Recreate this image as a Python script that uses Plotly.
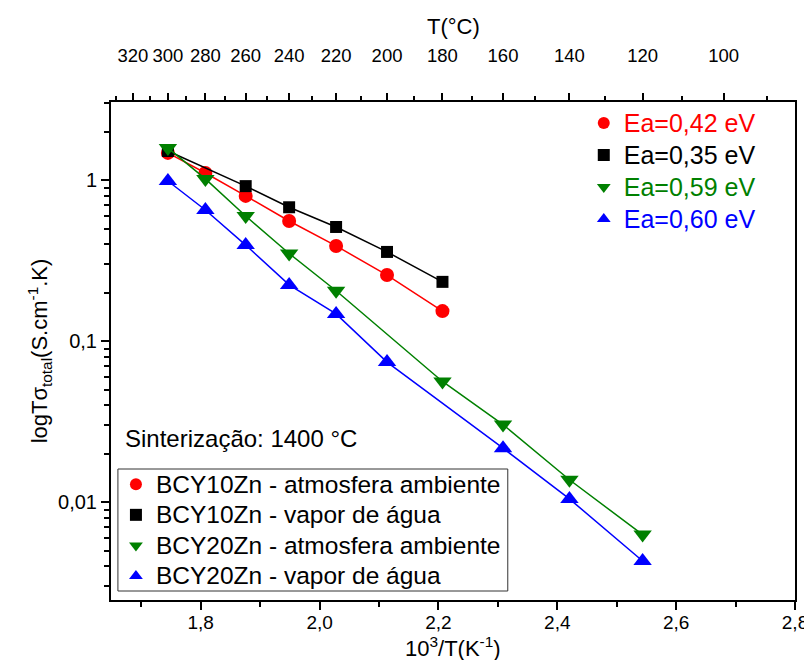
import plotly.graph_objects as go

# ---------------- data ----------------
# temperatures (°C) of each measured point; x = 1000/T(K)
T_bcy10_amb = [300, 280, 260, 240, 220, 200, 180]
S_bcy10_amb = [1.48, 1.11, 0.80, 0.559, 0.391, 0.258, 0.154]

T_bcy10_vap = [300, 260, 240, 220, 200, 180]
S_bcy10_vap = [1.52, 0.92, 0.68, 0.513, 0.359, 0.234]

T_bcy20_amb = [300, 280, 260, 240, 220, 180, 160, 140, 120]
S_bcy20_amb = [1.59, 1.02, 0.60, 0.351, 0.206, 0.0563, 0.0304, 0.0138, 0.0063]

T_bcy20_vap = [300, 280, 260, 240, 220, 200, 160, 140, 120]
S_bcy20_vap = [0.99, 0.654, 0.396, 0.224, 0.148, 0.0743, 0.0217, 0.0105, 0.00432]

series_names = ["BCY10Zn - atmosfera ambiente", "BCY10Zn - vapor de água",
                "BCY20Zn - atmosfera ambiente", "BCY20Zn - vapor de água"]
ea_labels = ["Ea=0,42 eV", "Ea=0,35 eV", "Ea=0,59 eV", "Ea=0,60 eV"]

top_tick_T = [320, 300, 280, 260, 240, 220, 200, 180, 160, 140, 120, 100]
top_tick_labels = ["320", "300", "280", "260", "240", "220", "200", "180", "160", "140", "120", "100"]
top_minor_T = [330, 310, 290, 270, 250, 230, 210, 190, 170, 150, 130, 110, 90]

y_tick_vals = [0.01, 0.1, 1]
y_tick_labels = ["0,01", "0,1", "1"]

# ---------------- styles ----------------
colors = ["#FF0000", "#000000", "#008000", "#0000FF"]
symbols = ["circle", "square", "triangle-down", "triangle-up"]
msizes = [14, 12, 16, 16]
FONT = "Liberation Sans, Arial, sans-serif"

PLOT_LEFT = 103
PLOT_RIGHT = 796
PLOT_TOP = 94
PLOT_BOTTOM = 592
H_PLOT = PLOT_BOTTOM - PLOT_TOP
W_PLOT = PLOT_RIGHT - PLOT_LEFT


def inv(T):
    return [1000.0 / (t + 273.15) for t in T]


def py(ypix):
    return (PLOT_BOTTOM - ypix) / H_PLOT


def px(xpix):
    return (xpix - PLOT_LEFT) / W_PLOT


Ts = [T_bcy10_amb, T_bcy10_vap, T_bcy20_amb, T_bcy20_vap]
Ss = [S_bcy10_amb, S_bcy10_vap, S_bcy20_amb, S_bcy20_vap]

fig = go.Figure()

for i in range(4):
    fig.add_trace(go.Scatter(
        x=inv(Ts[i]), y=Ss[i], mode="lines+markers",
        line=dict(color=colors[i], width=1.5),
        marker=dict(symbol=symbols[i], size=msizes[i], color=colors[i]),
        showlegend=False, hoverinfo="skip"))

# legend entries (markers only)
for i in range(4):
    fig.add_trace(go.Scatter(
        x=[None], y=[None], mode="markers",
        name="<span style='font-size:24.5px'>%s</span>" % series_names[i],
        marker=dict(symbol=symbols[i], size=msizes[i], color=colors[i]),
        legend="legend"))

for i in range(4):
    fig.add_trace(go.Scatter(
        x=[None], y=[None], mode="markers",
        name="<span style='font-size:25px;color:%s'>%s</span>" % (colors[i], ea_labels[i]),
        marker=dict(symbol=symbols[i], size=msizes[i], color=colors[i]),
        legend="legend2"))

# invisible trace to activate the top axis
fig.add_trace(go.Scatter(x=inv(T_bcy10_amb), y=[None] * len(T_bcy10_amb),
                         xaxis="x2", mode="markers", showlegend=False,
                         hoverinfo="skip"))

xr = [1.649, 2.8]
ytop = (172.3 - PLOT_TOP) / 161.0
ybot = (172.3 - PLOT_BOTTOM) / 161.0
minor_y = [k * 10.0 ** e for e in range(-3, 1) for k in range(2, 10)]

fig.update_layout(
    width=812, height=660,
    paper_bgcolor="white", plot_bgcolor="white",
    separators=",.",
    font=dict(family=FONT, size=20, color="black"),
    margin=dict(l=PLOT_LEFT, r=812 - PLOT_RIGHT, t=PLOT_TOP, b=660 - PLOT_BOTTOM),
    xaxis=dict(
        range=xr, dtick=0.2, tick0=0, tickformat=".1f",
        ticks="outside", ticklen=8, tickwidth=2, tickcolor="black",
        showline=True, linewidth=2, linecolor="black", mirror=True,
        showgrid=False, zeroline=False,
        tickfont=dict(size=19), ticklabelstandoff=-4,
        minor=dict(dtick=0.1, tick0=0, ticks="outside", ticklen=5,
                   tickwidth=2, tickcolor="black", showgrid=False),
    ),
    xaxis2=dict(
        overlaying="x", side="top", range=xr, anchor="y",
        tickmode="array", tickvals=inv(top_tick_T), ticktext=top_tick_labels,
        ticks="outside", ticklen=8, tickwidth=2, tickcolor="black",
        showline=False, showgrid=False, zeroline=False,
        tickfont=dict(size=18.5), tickangle=0, ticklabelstandoff=24,
        minor=dict(tickmode="array", tickvals=inv(top_minor_T),
                   ticks="outside", ticklen=5, tickwidth=2,
                   tickcolor="black", showgrid=False),
    ),
    yaxis=dict(
        type="log", range=[ybot, ytop],
        tickmode="array", tickvals=y_tick_vals, ticktext=y_tick_labels,
        ticks="outside", ticklen=8, tickwidth=2, tickcolor="black",
        showline=True, linewidth=2, linecolor="black", mirror=True,
        showgrid=False, zeroline=False,
        tickfont=dict(size=20),
        minor=dict(tickmode="array", tickvals=minor_y, ticks="outside",
                   ticklen=5, tickwidth=2, tickcolor="black", showgrid=False),
        title=dict(text="logTσ<sub>total</sub>(S.cm<sup>-1</sup>.K)",
                   font=dict(size=22), standoff=4),
    ),
    legend=dict(
        x=px(108), y=py(456), xanchor="left", yanchor="top",
        bgcolor="rgba(255,255,255,0)", borderwidth=0,
        font=dict(size=21.2), tracegroupgap=0, traceorder="normal",
        itemsizing="constant",
    ),
    legend2=dict(
        x=px(582), y=py(94), xanchor="left", yanchor="top",
        bgcolor="rgba(255,255,255,0)", borderwidth=0,
        font=dict(size=22.3), tracegroupgap=0, traceorder="normal",
        itemsizing="constant",
    ),
    shapes=[dict(type="rect", xref="paper", yref="paper",
                 x0=px(110), x1=px(505), y0=py(583), y1=py(461),
                 line=dict(color="#333333", width=1), fillcolor="white",
                 layer="below")],
    annotations=[
        dict(text="Sinterização: 1400 °C", xref="paper", yref="paper",
             x=px(115), y=py(430), xanchor="left", yanchor="middle",
             showarrow=False, font=dict(size=24)),
        dict(text="10<sup>3</sup>/T(K<sup>-1</sup>)", xref="paper", yref="paper",
             x=0.5, y=py(639), xanchor="center", yanchor="middle",
             showarrow=False, font=dict(size=22)),
        dict(text="T(°C)", xref="paper", yref="paper",
             x=0.5, y=py(18), xanchor="center", yanchor="middle",
             showarrow=False, font=dict(size=22)),
    ],
)

fig.write_html("out.html")
